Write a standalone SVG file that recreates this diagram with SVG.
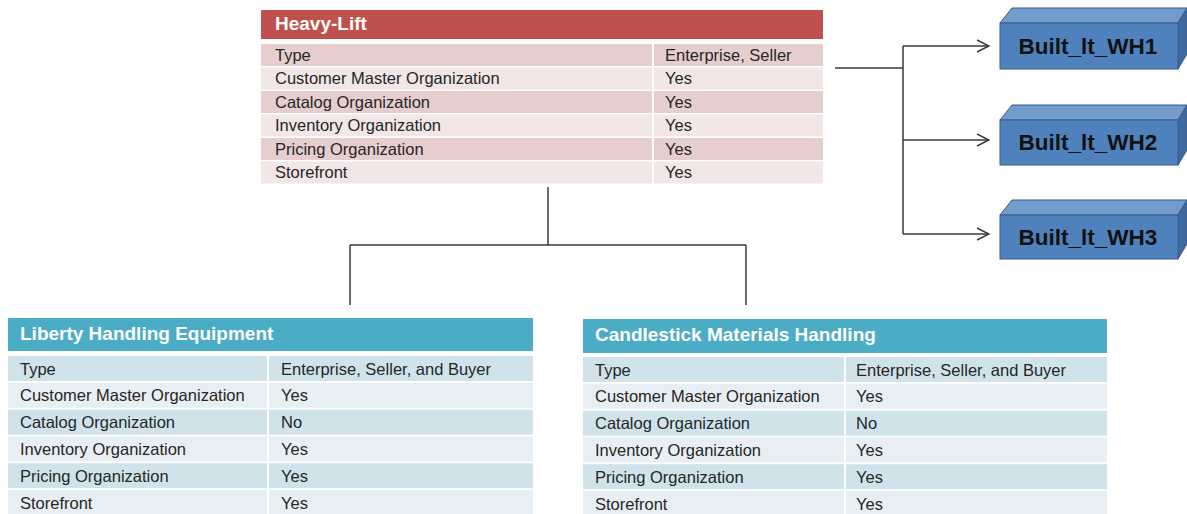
<svg xmlns="http://www.w3.org/2000/svg" width="1187" height="514" viewBox="0 0 1187 514">
<style>
.bg{fill:#ffffff}
.hdrR{fill:#C0504D}
.hdrB{fill:#4BACC6}
.rd{fill:#E6CECE}
.rl{fill:#F2E6E6}
.bd{fill:#D0E3EA}
.bl{fill:#E8EFF4}
.ht{font-family:"Liberation Sans",Arial,sans-serif;font-weight:bold;font-size:19px;fill:#ffffff}
.ct{font-family:"Liberation Sans",Arial,sans-serif;font-size:16.5px;fill:#262626}
.conn{fill:none;stroke:#3a3a3a;stroke-width:1.5}
.front{fill:#4F81BD;stroke:#385D8A;stroke-width:1}
.top{fill:#739BCB;stroke:#385D8A;stroke-width:1}
.side{fill:#3E6AA0;stroke:#385D8A;stroke-width:1}
.bt{font-family:"Liberation Sans",Arial,sans-serif;font-weight:bold;font-size:22.5px;fill:#111111;text-anchor:middle}
</style>
<defs>
<marker id="arr" markerWidth="14" markerHeight="14" refX="13" refY="7" orient="auto" markerUnits="userSpaceOnUse">
<path d="M1,1 L13,7 L1,13" fill="none" stroke="#3a3a3a" stroke-width="1.5"/>
</marker>
</defs>
<rect class="bg" x="0" y="0" width="1187" height="514"/>

<g id="connectors">
<path class="conn" d="M548,187 V245 M350,245 H746 M350,245 V305 M746,245 V305"/>
<path class="conn" d="M835,68 H903 M903,46 V234"/>
<path class="conn" d="M903,46 H989" marker-end="url(#arr)"/>
<path class="conn" d="M903,140 H989" marker-end="url(#arr)"/>
<path class="conn" d="M903,234 H989" marker-end="url(#arr)"/>
</g>

<g id="heavy-lift">
<rect class="hdrR" x="261" y="10" width="562" height="29"/>
<text class="ht" x="275" y="30">Heavy-Lift</text>
<rect class="rd" x="261" y="44" width="391" height="22"/><rect class="rd" x="654" y="44" width="169" height="22"/>
<rect class="rl" x="261" y="67.5" width="391" height="22"/><rect class="rl" x="654" y="67.5" width="169" height="22"/>
<rect class="rd" x="261" y="91" width="391" height="22"/><rect class="rd" x="654" y="91" width="169" height="22"/>
<rect class="rl" x="261" y="114.5" width="391" height="22"/><rect class="rl" x="654" y="114.5" width="169" height="22"/>
<rect class="rd" x="261" y="138" width="391" height="22"/><rect class="rd" x="654" y="138" width="169" height="22"/>
<rect class="rl" x="261" y="161.5" width="391" height="22"/><rect class="rl" x="654" y="161.5" width="169" height="22"/>
<text class="ct" x="275" y="60.5">Type</text><text class="ct" x="665" y="60.5">Enterprise, Seller</text>
<text class="ct" x="275" y="84">Customer Master Organization</text><text class="ct" x="665" y="84">Yes</text>
<text class="ct" x="275" y="107.5">Catalog Organization</text><text class="ct" x="665" y="107.5">Yes</text>
<text class="ct" x="275" y="131">Inventory Organization</text><text class="ct" x="665" y="131">Yes</text>
<text class="ct" x="275" y="154.5">Pricing Organization</text><text class="ct" x="665" y="154.5">Yes</text>
<text class="ct" x="275" y="178">Storefront</text><text class="ct" x="665" y="178">Yes</text>
</g>

<g id="liberty">
<rect class="hdrB" x="8" y="318" width="525" height="33"/>
<text class="ht" x="20" y="340">Liberty Handling Equipment</text>
<rect class="bd" x="8" y="356" width="259" height="25"/><rect class="bd" x="269" y="356" width="264" height="25"/>
<rect class="bl" x="8" y="382.8" width="259" height="25"/><rect class="bl" x="269" y="382.8" width="264" height="25"/>
<rect class="bd" x="8" y="409.6" width="259" height="25"/><rect class="bd" x="269" y="409.6" width="264" height="25"/>
<rect class="bl" x="8" y="436.4" width="259" height="25"/><rect class="bl" x="269" y="436.4" width="264" height="25"/>
<rect class="bd" x="8" y="463.2" width="259" height="25"/><rect class="bd" x="269" y="463.2" width="264" height="25"/>
<rect class="bl" x="8" y="490" width="259" height="25"/><rect class="bl" x="269" y="490" width="264" height="25"/>
<text class="ct" x="20" y="374.5">Type</text><text class="ct" x="281" y="374.5">Enterprise, Seller, and Buyer</text>
<text class="ct" x="20" y="401.3">Customer Master Organization</text><text class="ct" x="281" y="401.3">Yes</text>
<text class="ct" x="20" y="428.1">Catalog Organization</text><text class="ct" x="281" y="428.1">No</text>
<text class="ct" x="20" y="454.9">Inventory Organization</text><text class="ct" x="281" y="454.9">Yes</text>
<text class="ct" x="20" y="481.7">Pricing Organization</text><text class="ct" x="281" y="481.7">Yes</text>
<text class="ct" x="20" y="508.5">Storefront</text><text class="ct" x="281" y="508.5">Yes</text>
</g>

<g id="candlestick">
<rect class="hdrB" x="583" y="319" width="524" height="34"/>
<text class="ht" x="595" y="341">Candlestick Materials Handling</text>
<rect class="bd" x="583" y="357" width="261" height="25"/><rect class="bd" x="846" y="357" width="261" height="25"/>
<rect class="bl" x="583" y="383.8" width="261" height="25"/><rect class="bl" x="846" y="383.8" width="261" height="25"/>
<rect class="bd" x="583" y="410.6" width="261" height="25"/><rect class="bd" x="846" y="410.6" width="261" height="25"/>
<rect class="bl" x="583" y="437.4" width="261" height="25"/><rect class="bl" x="846" y="437.4" width="261" height="25"/>
<rect class="bd" x="583" y="464.2" width="261" height="25"/><rect class="bd" x="846" y="464.2" width="261" height="25"/>
<rect class="bl" x="583" y="491" width="261" height="25"/><rect class="bl" x="846" y="491" width="261" height="25"/>
<text class="ct" x="595" y="375.5">Type</text><text class="ct" x="856" y="375.5">Enterprise, Seller, and Buyer</text>
<text class="ct" x="595" y="402.3">Customer Master Organization</text><text class="ct" x="856" y="402.3">Yes</text>
<text class="ct" x="595" y="429.1">Catalog Organization</text><text class="ct" x="856" y="429.1">No</text>
<text class="ct" x="595" y="455.9">Inventory Organization</text><text class="ct" x="856" y="455.9">Yes</text>
<text class="ct" x="595" y="482.7">Pricing Organization</text><text class="ct" x="856" y="482.7">Yes</text>
<text class="ct" x="595" y="509.5">Storefront</text><text class="ct" x="856" y="509.5">Yes</text>
</g>

<g id="wh1">
<polygon class="top" points="1000,23 1012,8 1187,8 1178,23"/>
<polygon class="side" points="1178,23 1187,8 1187,54 1178,69"/>
<rect class="front" x="1000" y="23" width="178" height="46"/>
<text class="bt" x="1088" y="54">Built_lt_WH1</text>
</g>
<g id="wh2">
<polygon class="top" points="1000,120 1012,105 1187,105 1178,120"/>
<polygon class="side" points="1178,120 1187,105 1187,150 1178,165"/>
<rect class="front" x="1000" y="120" width="178" height="45"/>
<text class="bt" x="1088" y="150">Built_lt_WH2</text>
</g>
<g id="wh3">
<polygon class="top" points="1000,215 1012,200 1187,200 1178,215"/>
<polygon class="side" points="1178,215 1187,200 1187,244 1178,259"/>
<rect class="front" x="1000" y="215" width="178" height="44"/>
<text class="bt" x="1088" y="245">Built_lt_WH3</text>
</g>
</svg>
